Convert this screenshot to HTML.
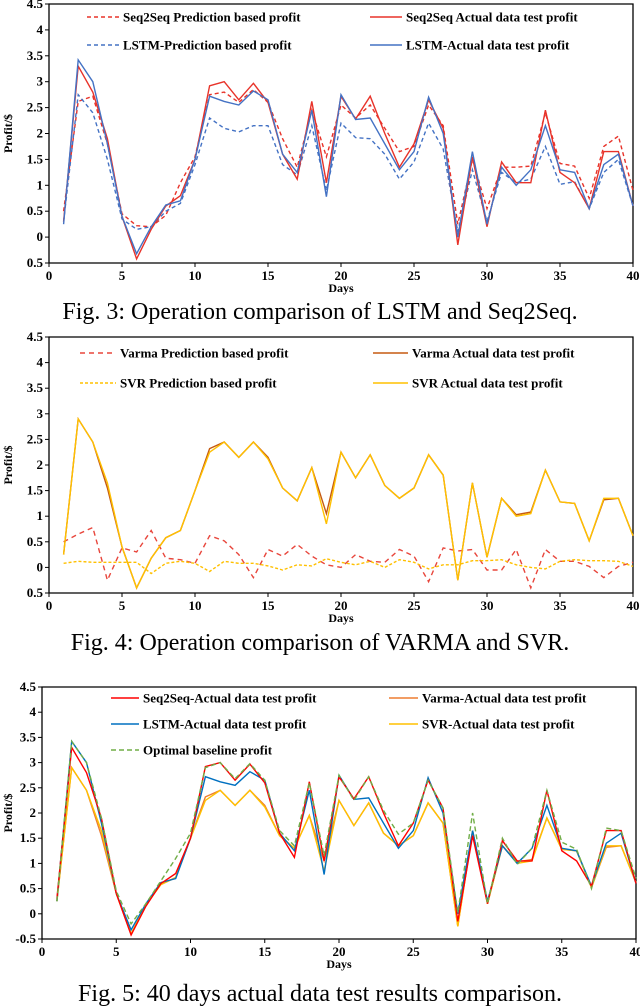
<!DOCTYPE html>
<html><head><meta charset="utf-8"><style>
html,body{margin:0;padding:0;background:#fff;width:640px;height:1008px;overflow:hidden}
svg{display:block}
text{font-family:"Liberation Serif",serif}
.t{font-size:13px;font-weight:bold}
.cap{font-size:24px}
</style></head><body>
<svg id="s" width="640" height="1008" xmlns="http://www.w3.org/2000/svg"></svg>
<script>
const days = Array.from({length:40},(_,i)=>i+1);
const yTicks = [-0.5,0,0.5,1,1.5,2,2.5,3,3.5,4,4.5];
const yTickLabels12 = ["0.5","0","0.5","1","1.5","2","2.5","3","3.5","4","4.5"];
const yTickLabels3 = ["-0.5","0","0.5","1","1.5","2","2.5","3","3.5","4","4.5"];
const xTicks = [0,5,10,15,20,25,30,35,40];
const seqActual = [0.3,3.3,2.8,1.9,0.4,-0.42,0.15,0.6,0.8,1.5,2.92,3.0,2.65,2.97,2.6,1.6,1.12,2.62,1.05,2.72,2.28,2.72,2.0,1.35,1.8,2.65,2.1,-0.15,1.55,0.2,1.45,1.05,1.05,2.45,1.25,1.05,0.55,1.65,1.65,0.6];
const seqPred = [0.5,2.62,2.72,1.8,0.45,0.22,0.2,0.42,1.05,1.55,2.75,2.8,2.6,2.85,2.6,1.9,1.35,2.45,1.55,2.55,2.3,2.55,2.1,1.65,1.75,2.55,2.15,0.25,1.5,0.55,1.35,1.35,1.37,2.4,1.42,1.37,0.75,1.75,1.95,0.9];
const lstmActual = [0.25,3.42,3.0,1.8,0.4,-0.32,0.2,0.62,0.7,1.5,2.72,2.62,2.55,2.82,2.65,1.6,1.25,2.45,0.78,2.75,2.27,2.3,1.8,1.3,1.65,2.7,2.0,0.0,1.65,0.25,1.35,1.0,1.3,2.15,1.3,1.25,0.55,1.4,1.6,0.6];
const lstmPred = [0.3,2.75,2.4,1.5,0.35,0.15,0.2,0.5,0.65,1.4,2.3,2.1,2.03,2.15,2.15,1.4,1.2,2.15,0.9,2.2,1.92,1.9,1.6,1.12,1.45,2.2,1.7,0.1,1.3,0.3,1.25,1.05,1.12,1.75,1.02,1.07,0.55,1.25,1.5,0.6];
const svrActual = [0.25,2.9,2.45,1.65,0.4,-0.4,0.18,0.58,0.72,1.5,2.25,2.45,2.15,2.45,2.12,1.55,1.3,1.95,0.85,2.25,1.75,2.2,1.6,1.35,1.55,2.2,1.8,-0.25,1.65,0.2,1.35,1.0,1.05,1.9,1.28,1.25,0.52,1.35,1.35,0.62];
const varmaActual = [0.25,2.9,2.45,1.55,0.4,-0.4,0.18,0.58,0.72,1.5,2.32,2.45,2.15,2.45,2.15,1.55,1.3,1.95,1.05,2.25,1.75,2.2,1.6,1.35,1.55,2.2,1.8,-0.25,1.65,0.2,1.35,1.03,1.08,1.9,1.28,1.25,0.52,1.32,1.35,0.62];
const varmaPred = [0.5,0.65,0.78,-0.25,0.38,0.3,0.72,0.18,0.15,0.08,0.62,0.52,0.25,-0.2,0.35,0.22,0.45,0.22,0.05,0.0,0.25,0.12,0.1,0.35,0.22,-0.28,0.38,0.32,0.35,-0.05,-0.05,0.35,-0.4,0.35,0.12,0.12,0.02,-0.2,0.02,0.1];
const svrPred = [0.08,0.12,0.1,0.1,0.1,0.1,-0.12,0.08,0.12,0.08,-0.08,0.12,0.08,0.08,0.03,-0.05,0.05,0.03,0.17,0.1,0.05,0.12,0.0,0.15,0.1,-0.03,0.05,0.05,0.13,0.13,0.15,0.05,0.0,-0.03,0.12,0.15,0.13,0.13,0.12,0.02];
const optimal = [0.25,3.42,3.0,1.9,0.45,-0.2,0.2,0.65,1.1,1.6,2.9,3.0,2.68,2.98,2.65,1.65,1.35,2.6,1.15,2.75,2.25,2.72,2.05,1.58,1.8,2.65,2.1,0.02,2.0,0.2,1.5,0.98,1.3,2.45,1.42,1.28,0.5,1.7,1.65,0.7];

const NS="http://www.w3.org/2000/svg";
const svg=document.getElementById('s');
function mk(tag,attrs,parent){const e=document.createElementNS(NS,tag);for(const k in attrs)e.setAttribute(k,attrs[k]);(parent||svg).appendChild(e);return e;}

function chart(cfg){
  const g=mk('g',{});
  
  
  const X=v=>cfg.l+(v/40)*(cfg.r-cfg.l);
  const Y=v=>cfg.b-((v+0.5)/5)*(cfg.b-cfg.t);
  const ax=mk('path',{d:`M${cfg.l},${cfg.t}H${cfg.r}V${cfg.b}H${cfg.l}Z`,fill:'none',stroke:'#000','stroke-width':1.3},g);
  
  
  yTicks.forEach((v,i)=>{
    mk('line',{x1:cfg.l-4,x2:cfg.l,y1:Y(v),y2:Y(v),stroke:'#000'},g);
    const t=mk('text',{x:cfg.l-6,y:Y(v)+4,'text-anchor':'end',class:'t'},g);
    t.textContent=cfg.ylab[i];
    
    
  });
  xTicks.forEach(v=>{
    mk('line',{x1:X(v),x2:X(v),y1:cfg.b,y2:cfg.b+4,stroke:'#000'},g);
    const t=mk('text',{x:X(v),y:cfg.b+17,'text-anchor':'middle',class:'t'},g);
    t.textContent=v;
    
    
  });
  const xt=mk('text',{x:(cfg.l+cfg.r)/2,y:cfg.b+29,'text-anchor':'middle',class:'t',style:'font-size:12px'},g);
  xt.textContent='Days';
  
  
  const yt=mk('text',{x:0,y:0,'text-anchor':'middle',class:'t',style:'font-size:12px',transform:`translate(12,${(cfg.t+cfg.b)/2}) rotate(-90)`},g);
  yt.textContent='Profit/$';
  
  
  cfg.series.forEach(s=>{
    const d=s.data.map((v,i)=>(i?'L':'M')+X(days[i]).toFixed(1)+','+Y(v).toFixed(1)).join('');
    const p=mk('path',{d,fill:'none',stroke:s.c,'stroke-width':1.4,'stroke-dasharray':s.dash||'none'},g);
    
    
  });
  cfg.legend.forEach(L=>{
    const s=cfg.series.find(q=>q.id===L.id);
    const ln=mk('line',{x1:L.x,x2:L.x+L.w,y1:L.y,y2:L.y,stroke:s.c,'stroke-width':1.6,'stroke-dasharray':s.dash||'none'},g);
    
    
    const t=mk('text',{x:L.x+L.w+4,y:L.y+4.5,class:'t'},g);
    t.textContent=L.label;
    
    
  });
  const c=mk('text',{x:320,y:cfg.capY,'text-anchor':'middle',class:'cap'},g);
  c.textContent=cfg.cap;
  
  
}

chart({name:'fig3-chart',l:49,r:633,t:4,b:263,ylab:yTickLabels12,capY:319,cap:'Fig. 3: Operation comparison of LSTM and Seq2Seq.',
 series:[
  {id:'seq-pred',data:seqPred,c:'#e8332a',dash:'4,3'},
  {id:'lstm-pred',data:lstmPred,c:'#4472c4',dash:'4,3'},
  {id:'seq-actual',data:seqActual,c:'#e8332a'},
  {id:'lstm-actual',data:lstmActual,c:'#4472c4'}],
 legend:[
  {id:'seq-pred',x:87,w:32,y:17,label:'Seq2Seq Prediction based  profit'},
  {id:'seq-actual',x:370,w:32,y:17,label:'Seq2Seq Actual data test  profit'},
  {id:'lstm-pred',x:87,w:32,y:45,label:'LSTM-Prediction based profit'},
  {id:'lstm-actual',x:370,w:32,y:45,label:'LSTM-Actual data test  profit'}]});

chart({name:'fig4-chart',l:49,r:633,t:337,b:593,ylab:yTickLabels12,capY:650,cap:'Fig. 4: Operation comparison of VARMA and SVR.',
 series:[
  {id:'varma-pred',data:varmaPred,c:'#e8463c',dash:'5,4'},
  {id:'svr-pred',data:svrPred,c:'#ffc000',dash:'3,2'},
  {id:'varma-actual',data:varmaActual,c:'#c55a11'},
  {id:'svr-actual',data:svrActual,c:'#ffc000'}],
 legend:[
  {id:'varma-pred',x:80,w:36,y:353,label:'Varma Prediction based  profit'},
  {id:'varma-actual',x:373,w:35,y:353,label:'Varma Actual data test profit'},
  {id:'svr-pred',x:80,w:36,y:383,label:'SVR Prediction based  profit'},
  {id:'svr-actual',x:373,w:35,y:383,label:'SVR Actual data test profit'}]});

chart({name:'fig5-chart',l:42,r:636,t:687,b:939,ylab:yTickLabels3,capY:1001,cap:'Fig. 5: 40 days actual data test results comparison.',
 series:[
  {id:'varma-actual',data:varmaActual,c:'#ed7d31'},
  {id:'svr-actual',data:svrActual,c:'#ffc000'},
  {id:'lstm-actual',data:lstmActual,c:'#0070c0'},
  {id:'seq-actual',data:seqActual,c:'#ff0000'},
  {id:'optimal',data:optimal,c:'#70ad47',dash:'5,3'}],
 legend:[
  {id:'seq-actual',x:111,w:28,y:698,label:'Seq2Seq-Actual data test  profit'},
  {id:'varma-actual',x:389,w:29,y:698,label:'Varma-Actual data test profit'},
  {id:'lstm-actual',x:111,w:28,y:724,label:'LSTM-Actual data test  profit'},
  {id:'svr-actual',x:389,w:29,y:724,label:'SVR-Actual data test profit'},
  {id:'optimal',x:111,w:28,y:750,label:'Optimal baseline profit'}]});
</script>
</body></html>
